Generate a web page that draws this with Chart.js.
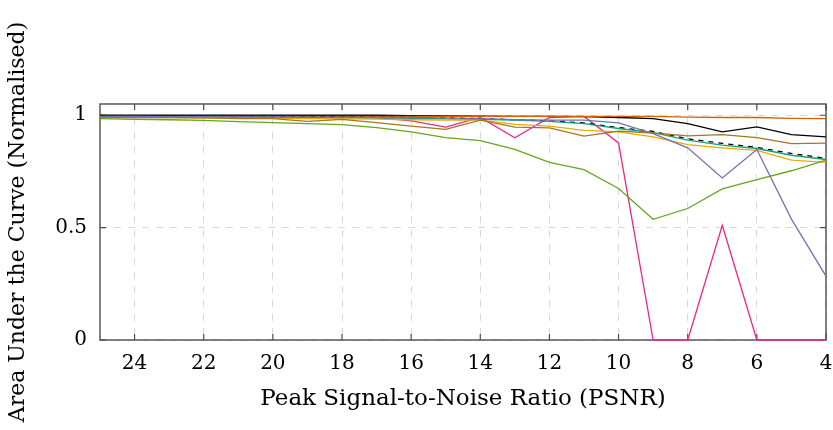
<!DOCTYPE html>
<html>
<head>
<meta charset="utf-8">
<script src="https://cdn.jsdelivr.net/npm/chart.js@4.4.1/dist/chart.umd.min.js"></script>
<style>
  html, body { margin: 0; padding: 0; background: #fff; }
  #wrap { width: 833px; height: 430px; }
</style>
</head>
<body>
<div id="wrap"><canvas id="chart"></canvas></div>
<script>
// PSNR values on the x axis (high to low)
const psnr = [25, 24, 23, 22, 21, 20, 19, 18, 17, 16, 15, 14, 13, 12, 11, 10, 9, 8, 7, 6, 5, 4];

const blackLine  = [1.0, 1.0, 1.0, 1.0, 1.0, 1.0, 1.0, 1.0, 1.0, 0.998, 0.997, 0.996, 0.995, 0.995, 0.994, 0.99, 0.985, 0.963, 0.926, 0.948, 0.914, 0.904];
const dashedLine = [0.995, 0.995, 0.995, 0.994, 0.994, 0.993, 0.993, 0.992, 0.99, 0.99, 0.988, 0.985, 0.98, 0.975, 0.966, 0.945, 0.928, 0.895, 0.875, 0.857, 0.83, 0.808];
const orangeLine = [0.995, 0.995, 0.995, 0.995, 0.995, 0.995, 0.995, 0.995, 0.995, 0.995, 0.995, 0.995, 0.995, 0.995, 0.995, 0.995, 0.995, 0.992, 0.99, 0.99, 0.986, 0.985];
const tealLine   = [0.993, 0.993, 0.992, 0.992, 0.991, 0.99, 0.99, 0.989, 0.988, 0.986, 0.984, 0.982, 0.978, 0.973, 0.963, 0.941, 0.923, 0.889, 0.867, 0.852, 0.822, 0.803];
const yellowLine = [0.99, 0.99, 0.99, 0.988, 0.987, 0.986, 0.985, 0.984, 0.983, 0.98, 0.978, 0.978, 0.959, 0.952, 0.933, 0.926, 0.904, 0.869, 0.855, 0.844, 0.80, 0.79];
const purpleLine = [0.995, 0.995, 0.994, 0.994, 0.993, 0.993, 0.992, 0.992, 0.99, 0.99, 0.988, 0.985, 0.98, 0.978, 0.978, 0.966, 0.918, 0.855, 0.721, 0.848, 0.538, 0.284];
const magentaLine = [0.995, 0.995, 0.993, 0.993, 0.992, 0.99, 0.99, 0.99, 0.99, 0.975, 0.947, 0.99, 0.90, 0.99, 0.995, 0.877, 0, 0, 0.51, 0, 0, 0];
const brownLine  = [0.99, 0.99, 0.99, 0.988, 0.985, 0.985, 0.973, 0.982, 0.967, 0.952, 0.937, 0.978, 0.947, 0.944, 0.907, 0.929, 0.921, 0.908, 0.914, 0.90, 0.874, 0.876];
const greenLine  = [0.985, 0.982, 0.98, 0.977, 0.972, 0.967, 0.963, 0.958, 0.945, 0.926, 0.90, 0.887, 0.848, 0.79, 0.758, 0.674, 0.537, 0.585, 0.672, 0.714, 0.753, 0.80];

const xTicks = [24, 22, 20, 18, 16, 14, 12, 10, 8, 6, 4];
const yTicks = [0, 0.5, 1];

const serif = "'DejaVu Serif', 'Liberation Serif', serif";

function pts(vals) {
    return psnr.map((p, i) => ({ x: p, y: vals[i] }));
}

function line(vals, color, dash) {
    return {
        data: pts(vals),
        borderColor: color,
        borderWidth: 1.3,
        borderDash: dash || [],
        pointRadius: 0,
        tension: 0,
        fill: false,
        clip: 4
    };
}

// pgfplots style frame with inward tick marks, drawn under the lines
const frame = {
    id: 'frame',
    beforeDatasetsDraw(c) {
        const { ctx, chartArea: a, scales } = c;
        ctx.save();
        ctx.strokeStyle = '#4d4d4d';
        ctx.lineWidth = 1.2;
        ctx.beginPath();
        xTicks.forEach(v => {
            const px = scales.x.getPixelForValue(v);
            ctx.moveTo(px, a.bottom); ctx.lineTo(px, a.bottom - 6);
            ctx.moveTo(px, a.top); ctx.lineTo(px, a.top + 6);
        });
        yTicks.forEach(v => {
            const py = scales.y.getPixelForValue(v);
            ctx.moveTo(a.left, py); ctx.lineTo(a.left + 6, py);
            ctx.moveTo(a.right, py); ctx.lineTo(a.right - 6, py);
        });
        ctx.stroke();
        ctx.lineWidth = 1.4;
        ctx.strokeRect(a.left, a.top, a.right - a.left, a.bottom - a.top);
        ctx.restore();
    }
};

new Chart(document.getElementById('chart'), {
    type: 'line',
    data: {
        datasets: [
            line(greenLine, '#66a61e'),
            line(purpleLine, '#7570b3'),
            line(brownLine, '#a6761d'),
            line(yellowLine, '#e6ab02'),
            line(tealLine, '#1b9e77'),
            line(dashedLine, '#000000', [5, 5]),
            line(orangeLine, '#d95f02'),
            line(blackLine, '#000000'),
            line(magentaLine, '#e7298a')
        ]
    },
    options: {
        responsive: true,
        maintainAspectRatio: false,
        animation: false,
        layout: { padding: { top: 104, right: 7, left: 4, bottom: 0 } },
        plugins: { legend: { display: false }, tooltip: { enabled: false } },
        scales: {
            x: {
                type: 'linear',
                reverse: true,
                min: 4,
                max: 25,
                grid: { color: '#d8d8d8', drawTicks: false },
                border: { display: false, dash: [7, 7] },
                ticks: {
                    color: '#000',
                    padding: 12,
                    maxRotation: 0,
                    font: { family: serif, size: 20 }
                },
                afterBuildTicks: s => { s.ticks = xTicks.map(v => ({ value: v })); },
                afterFit: s => { s.height = 90; s.paddingLeft = 0; s.paddingRight = 0; },
                title: {
                    display: true,
                    text: 'Peak Signal-to-Noise Ratio (PSNR)',
                    color: '#000',
                    font: { family: serif, size: 23 },
                    padding: { top: 4, bottom: 17 }
                }
            },
            y: {
                min: 0,
                max: 1.05,
                grid: { color: '#d8d8d8', drawTicks: false },
                border: { display: false, dash: [7, 7] },
                ticks: {
                    color: '#000',
                    padding: 13,
                    font: { family: serif, size: 20 },
                    callback: v => String(v)
                },
                afterBuildTicks: s => { s.ticks = yTicks.map(v => ({ value: v })); },
                afterFit: s => { s.width = 96; s.paddingTop = 0; s.paddingBottom = 0; },
                title: {
                    display: true,
                    text: 'Area Under the Curve (Normalised)',
                    color: '#000',
                    font: { family: serif, size: 22 },
                    padding: { top: 1, bottom: 1 }
                }
            }
        }
    },
    plugins: [frame]
});
</script>
</body>
</html>
